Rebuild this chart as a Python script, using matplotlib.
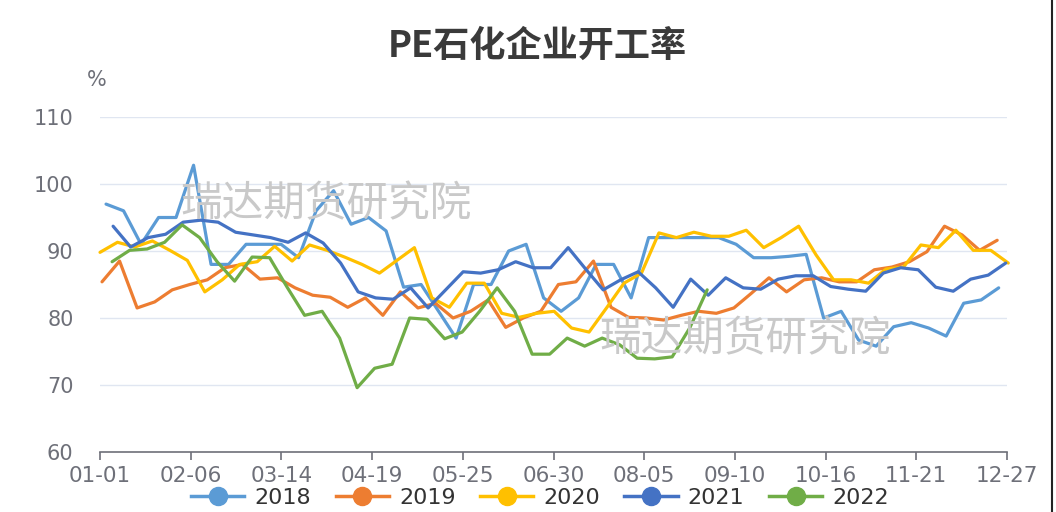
import matplotlib
matplotlib.use('Agg')
import matplotlib.pyplot as plt
import numpy as np
from matplotlib.lines import Line2D

plt.rcParams['font.family'] = ['Noto Sans CJK SC', 'DejaVu Sans']

# ---------------- data ----------------
tick_days = [0, 36, 72, 108, 144, 180, 216, 252, 288, 324, 360]
tick_labels = ['01-01', '02-06', '03-14', '04-19', '05-25', '06-30',
               '08-05', '09-10', '10-16', '11-21', '12-27']

years = ['2018', '2019', '2020', '2021', '2022']
colors = ['#5B9BD5', '#ED7D31', '#FFC000', '#4472C4', '#70AD47']
start_days = [2.4, 0.8, 0.0, 5.2, 4.8]
end_days = [356.7, 356.1, 360.5, 359.5, 241.0]

v2018 = [97, 96, 91, 95, 95, 102.8, 88, 88, 91, 91,
         91, 89, 96, 99, 94, 95, 93, 84.6, 85, 81,
         77, 85, 85, 90, 91, 83, 81, 83, 88, 88,
         83, 92, 92, 92, 92, 92, 91, 89, 89, 89.2,
         89.5, 80, 81, 76.7, 75.8, 78.7, 79.3, 78.5, 77.3, 82.2,
         82.7, 84.5]
v2019 = [85.4, 88.5, 81.5, 82.4, 84.2, 85.0, 85.7, 87.5, 88.0, 85.8,
         86.0, 84.5, 83.4, 83.1, 81.6, 83.0, 80.4, 83.9, 81.5, 82.2,
         80.0, 81.0, 82.7, 78.6, 80.0, 81.0, 85.0, 85.4, 88.5, 81.6,
         80.1, 80.0, 79.7, 80.4, 81.0, 80.7, 81.5, 83.7, 86.0, 83.9,
         85.7, 86.0, 85.4, 85.4, 87.2, 87.6, 88.4, 89.9, 93.7, 92.4,
         90.1, 91.6]
v2020 = [89.8, 91.3, 90.6, 91.5, 90.1, 88.6, 83.9, 85.7, 88.0, 88.4,
         90.7, 88.5, 90.9, 90.1, 89.1, 88.0, 86.7, 88.6, 90.5, 83.0,
         81.6, 85.2, 85.2, 80.7, 80.1, 80.7, 81.0, 78.5, 77.9, 81.5,
         85.2, 86.7, 92.7, 92.0, 92.8, 92.2, 92.2, 93.1, 90.5, 92.0,
         93.7, 89.4, 85.7, 85.7, 85.2, 87.3, 87.6, 90.9, 90.5, 93.1,
         90.1, 90.1, 88.2]
v2021 = [93.7, 90.6, 92.0, 92.5, 94.3, 94.6, 94.3, 92.8, 92.4, 92.0,
         91.3, 92.7, 91.2, 88.2, 83.9, 83.0, 82.8, 84.5, 81.5, 84.2,
         86.9, 86.7, 87.2, 88.4, 87.5, 87.5, 90.5, 87.3, 84.2, 85.7,
         86.9, 84.5, 81.6, 85.8, 83.4, 86.0, 84.5, 84.3, 85.8, 86.3,
         86.3, 84.7, 84.3, 84.0, 86.7, 87.5, 87.2, 84.6, 84.0, 85.8,
         86.4, 88.2]
v2022 = [88.4, 90.1, 90.3, 91.3, 93.9, 92.0, 88.4, 85.5, 89.1, 89.0,
         84.6, 80.4, 81.0, 77.0, 69.6, 72.5, 73.1, 80.0, 79.8, 76.9,
         77.9, 81.0, 84.5, 81.0, 74.6, 74.6, 77.0, 75.8, 77.0, 76.0,
         74.0, 73.9, 74.2, 78.5, 84.2]
series = [v2018, v2019, v2020, v2021, v2022]

# ---------------- figure ----------------
W, H = 1056, 512
fig = plt.figure(figsize=(W / 100, H / 100), dpi=100)
ax = fig.add_axes([100 / W, (H - 452) / H, 907 / W, (452 - 117) / H])

grey = '#6E7079'
num_font = ['DejaVu Sans']
for name, col, s, e, vals in zip(years, colors, start_days, end_days, series):
    x = np.linspace(s, e, len(vals))
    ax.plot(x, vals, color=col, lw=2.3, label=name, clip_on=False,
            solid_joinstyle='round', solid_capstyle='round')

ax.set_xlim(0, 360)
ax.set_ylim(60, 110)
ax.set_yticks(np.arange(60, 111, 10))
ax.set_xticks(tick_days)
ax.set_xticklabels(tick_labels)
ax.grid(axis='y', color='#E0E6F1', lw=1)
ax.set_axisbelow(True)
for sp in ['top', 'right', 'left']:
    ax.spines[sp].set_visible(False)
ax.spines['bottom'].set_color(grey)
ax.spines['bottom'].set_linewidth(1.2)
ax.tick_params(axis='y', length=0, pad=19, labelsize=15, labelcolor=grey)
ax.tick_params(axis='x', length=6, width=1.2, color=grey, pad=4,
               labelsize=15.5, labelcolor=grey)
for lab in ax.get_xticklabels() + ax.get_yticklabels():
    lab.set_family(num_font)

# watermarks
wm_kw = dict(fontsize=30, color='#C9C9C9', ha='center', va='center', zorder=0)
fig.text(326 / W, 1 - 205 / H, '瑞达期货研究院', **wm_kw)
fig.text(745 / W, 1 - 340 / H, '瑞达期货研究院', **wm_kw)

# title and unit
fig.text(537 / W, 1 - 46 / H, 'PE石化企业开工率', fontsize=26, fontweight='bold',
         color='#3A3A3A', ha='center', va='center')
fig.text(97 / W, 1 - 80 / H, '%', fontsize=15, color=grey, ha='center', va='center',
         family=num_font)

# legend
handles = [Line2D([0], [0], color=c, lw=2.5, marker='o', markersize=13,
                  markerfacecolor=c, markeredgecolor=c) for c in colors]
leg = fig.legend(handles, years, loc='center', bbox_to_anchor=(540 / W, 1 - 498 / H),
                 ncol=5, frameon=False, handlelength=2.4,
                 columnspacing=1.1, handletextpad=0.45,
                 prop={'family': num_font, 'size': 16})
for t in leg.get_texts():
    t.set_color('#333333')

# right border of screenshot
fig.add_artist(Line2D([1051.5 / W, 1051.5 / W], [0, 1], color='#222222', lw=1.5,
                      transform=fig.transFigure))

fig.savefig('out.png', dpi=100)
